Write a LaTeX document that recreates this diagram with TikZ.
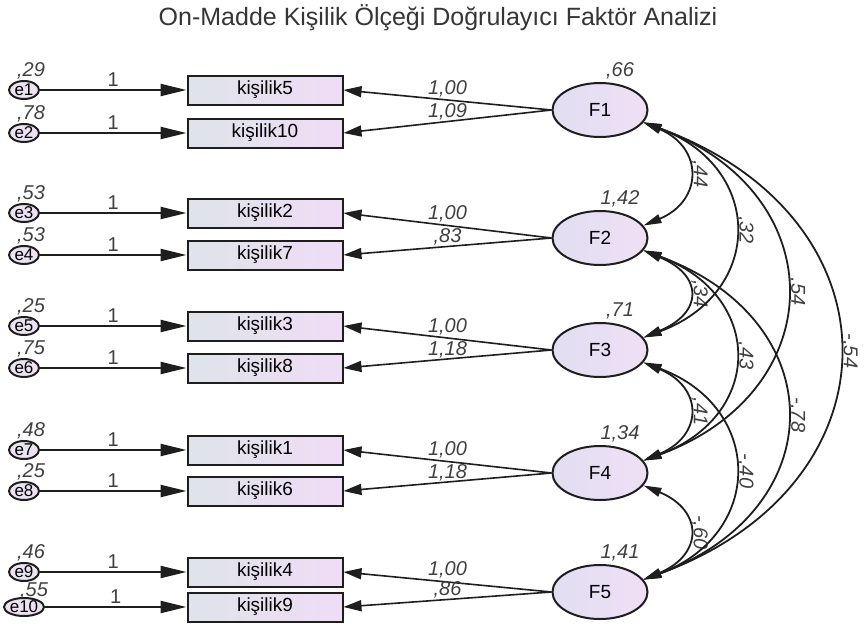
\documentclass[tikz,border=0pt]{standalone}
\usepackage{fontspec}
\setmainfont{Liberation Sans}
\usetikzlibrary{arrows.meta,shapes.geometric}
\definecolor{boxleft}{RGB}{222,228,234}
\definecolor{boxright}{RGB}{240,220,246}
\definecolor{facleft}{RGB}{226,222,242}
\definecolor{facright}{RGB}{238,224,246}
\definecolor{errfill}{RGB}{236,226,242}
\definecolor{ink}{RGB}{30,30,30}
\newcommand{\boxfont}{\fontsize{19}{19}\selectfont}
\newcommand{\numfont}{\fontsize{20}{20}\selectfont}

\begin{document}
\begin{tikzpicture}[x=1pt,y=-1pt,
	err/.style={ellipse,draw=ink,line width=2pt,fill=errfill,minimum width=30pt,minimum height=18pt,inner sep=0pt,font=\fontsize{17}{17}\selectfont},
	item/.style={rectangle,draw=ink,line width=2pt,left color=boxleft,right color=boxright,minimum width=155pt,minimum height=29pt,font=\boxfont},
	fac/.style={ellipse,draw=ink,line width=2pt,left color=facleft,right color=facright,minimum width=95pt,minimum height=54pt,font=\boxfont},
	est/.style={font=\numfont\itshape,text=ink!85,inner sep=0.5pt},
	fix/.style={font=\numfont,text=ink!85,inner sep=2pt},
	covlab/.style={est,pos=0.5,rotate=-90,anchor=south,inner sep=2pt},
	bow/.style 2 args={to path={.. controls +(#1,#2) and +(#1,-#2) .. (\tikztotarget) \tikztonodes}}]
	\useasboundingbox (0,0) rectangle (867,626);
	\node[font=\fontsize{25}{25}\selectfont,text=ink!90] (title) at (438,18) {On-Madde Kişilik Ölçeği Doğrulayıcı Faktör Analizi};

	\node[err,label={[est,xshift=7pt]above:{,29}}] (e1) at (24,90) {e1};
	\node[err,label={[est,xshift=7pt]above:{,78}}] (e2) at (24,133) {e2};
	\node[err,label={[est,xshift=7pt]above:{,53}}] (e3) at (24,213) {e3};
	\node[err,label={[est,xshift=7pt]above:{,53}}] (e4) at (24,255) {e4};
	\node[err,label={[est,xshift=7pt]above:{,25}}] (e5) at (24,326) {e5};
	\node[err,label={[est,xshift=7pt]above:{,75}}] (e6) at (24,368) {e6};
	\node[err,label={[est,xshift=7pt]above:{,48}}] (e7) at (24,450) {e7};
	\node[err,label={[est,xshift=7pt]above:{,25}}] (e8) at (24,491) {e8};
	\node[err,label={[est,xshift=7pt]above:{,46}}] (e9) at (24,572) {e9};
	\node[err,label={[est,xshift=10pt,yshift=-2.5pt]above:{,55}}] (e10) at (24,607) {e10};

	\node[item] (k5) at (265,90) {kişilik5};
	\node[item] (k10) at (265,133) {kişilik10};
	\node[item] (k2) at (265,213) {kişilik2};
	\node[item] (k7) at (265,255) {kişilik7};
	\node[item] (k3) at (265,326) {kişilik3};
	\node[item] (k8) at (265,368) {kişilik8};
	\node[item] (k1) at (265,450) {kişilik1};
	\node[item] (k6) at (265,491) {kişilik6};
	\node[item] (k4) at (265,572) {kişilik4};
	\node[item] (k9) at (265,607) {kişilik9};

	\node[fac,label={[est,xshift=20pt,yshift=2pt]above:{,66}}] (F1) at (600,110) {F1};
	\node[fac,label={[est,xshift=20pt,yshift=2pt]above:{1,42}}] (F2) at (600,238) {F2};
	\node[fac,label={[est,xshift=20pt,yshift=2pt]above:{,71}}] (F3) at (600,350) {F3};
	\node[fac,label={[est,xshift=20pt,yshift=2pt]above:{1,34}}] (F4) at (600,473) {F4};
	\node[fac,label={[est,xshift=20pt,yshift=2pt]above:{1,41}}] (F5) at (600,592) {F5};

	\path[-{Triangle[length=26pt,width=12pt]},line width=2.2pt,ink]
	(e1) edge node[above,fix] {1} (k5)
	(e2) edge node[above,fix] {1} (k10)
	(e3) edge node[above,fix] {1} (k2)
	(e4) edge node[above,fix] {1} (k7)
	(e5) edge node[above,fix] {1} (k3)
	(e6) edge node[above,fix] {1} (k8)
	(e7) edge node[above,fix] {1} (k1)
	(e8) edge node[above,fix] {1} (k6)
	(e9) edge node[above,fix] {1} (k4)
	(e10) edge node[above,fix] {1} (k9);

	\path[-{Triangle[length=18pt,width=11pt]},line width=1.6pt,ink]
	(F1.west) edge node[above=2pt,est] {1,00} (k5.east)
	(F1.west) edge node[above,est] {1,09} (k10.east)
	(F2.west) edge node[above=2pt,est] {1,00} (k2.east)
	(F2.west) edge node[above,est] {,83} (k7.east)
	(F3.west) edge node[above=2pt,est] {1,00} (k3.east)
	(F3.west) edge node[above,est] {1,18} (k8.east)
	(F4.west) edge node[above=2pt,est] {1,00} (k1.east)
	(F4.west) edge node[above,est] {1,18} (k6.east)
	(F5.west) edge node[above=3pt,est] {1,00} (k4.east)
	(F5.west) edge node[above,est] {,86} (k9.east);

	\path[{Triangle[length=18pt,width=9pt]}-{Triangle[length=18pt,width=9pt]},line width=1.8pt,ink]
	(F1.-16) edge[bow={60}{25}] node[covlab] {,44} (F2.16)
	(F2.-16) edge[bow={60}{25}] node[covlab] {,34} (F3.16)
	(F3.-16) edge[bow={60}{25}] node[covlab] {,41} (F4.16)
	(F4.-16) edge[bow={60}{25}] node[covlab] {-,60} (F5.16)
	(F1.-16) edge[bow={121}{45}] node[covlab] {,32} (F3.16)
	(F2.-16) edge[bow={121}{45}] node[covlab] {,43} (F4.16)
	(F3.-16) edge[bow={121}{45}] node[covlab] {-,40} (F5.16)
	(F1.-16) edge[bow={190}{70}] node[covlab] {,54} (F4.16)
	(F2.-16) edge[bow={190}{70}] node[covlab] {-,78} (F5.16)
	(F1.-16) edge[bow={260}{95}] node[covlab] {-,54} (F5.16);
\end{tikzpicture}
\end{document}
